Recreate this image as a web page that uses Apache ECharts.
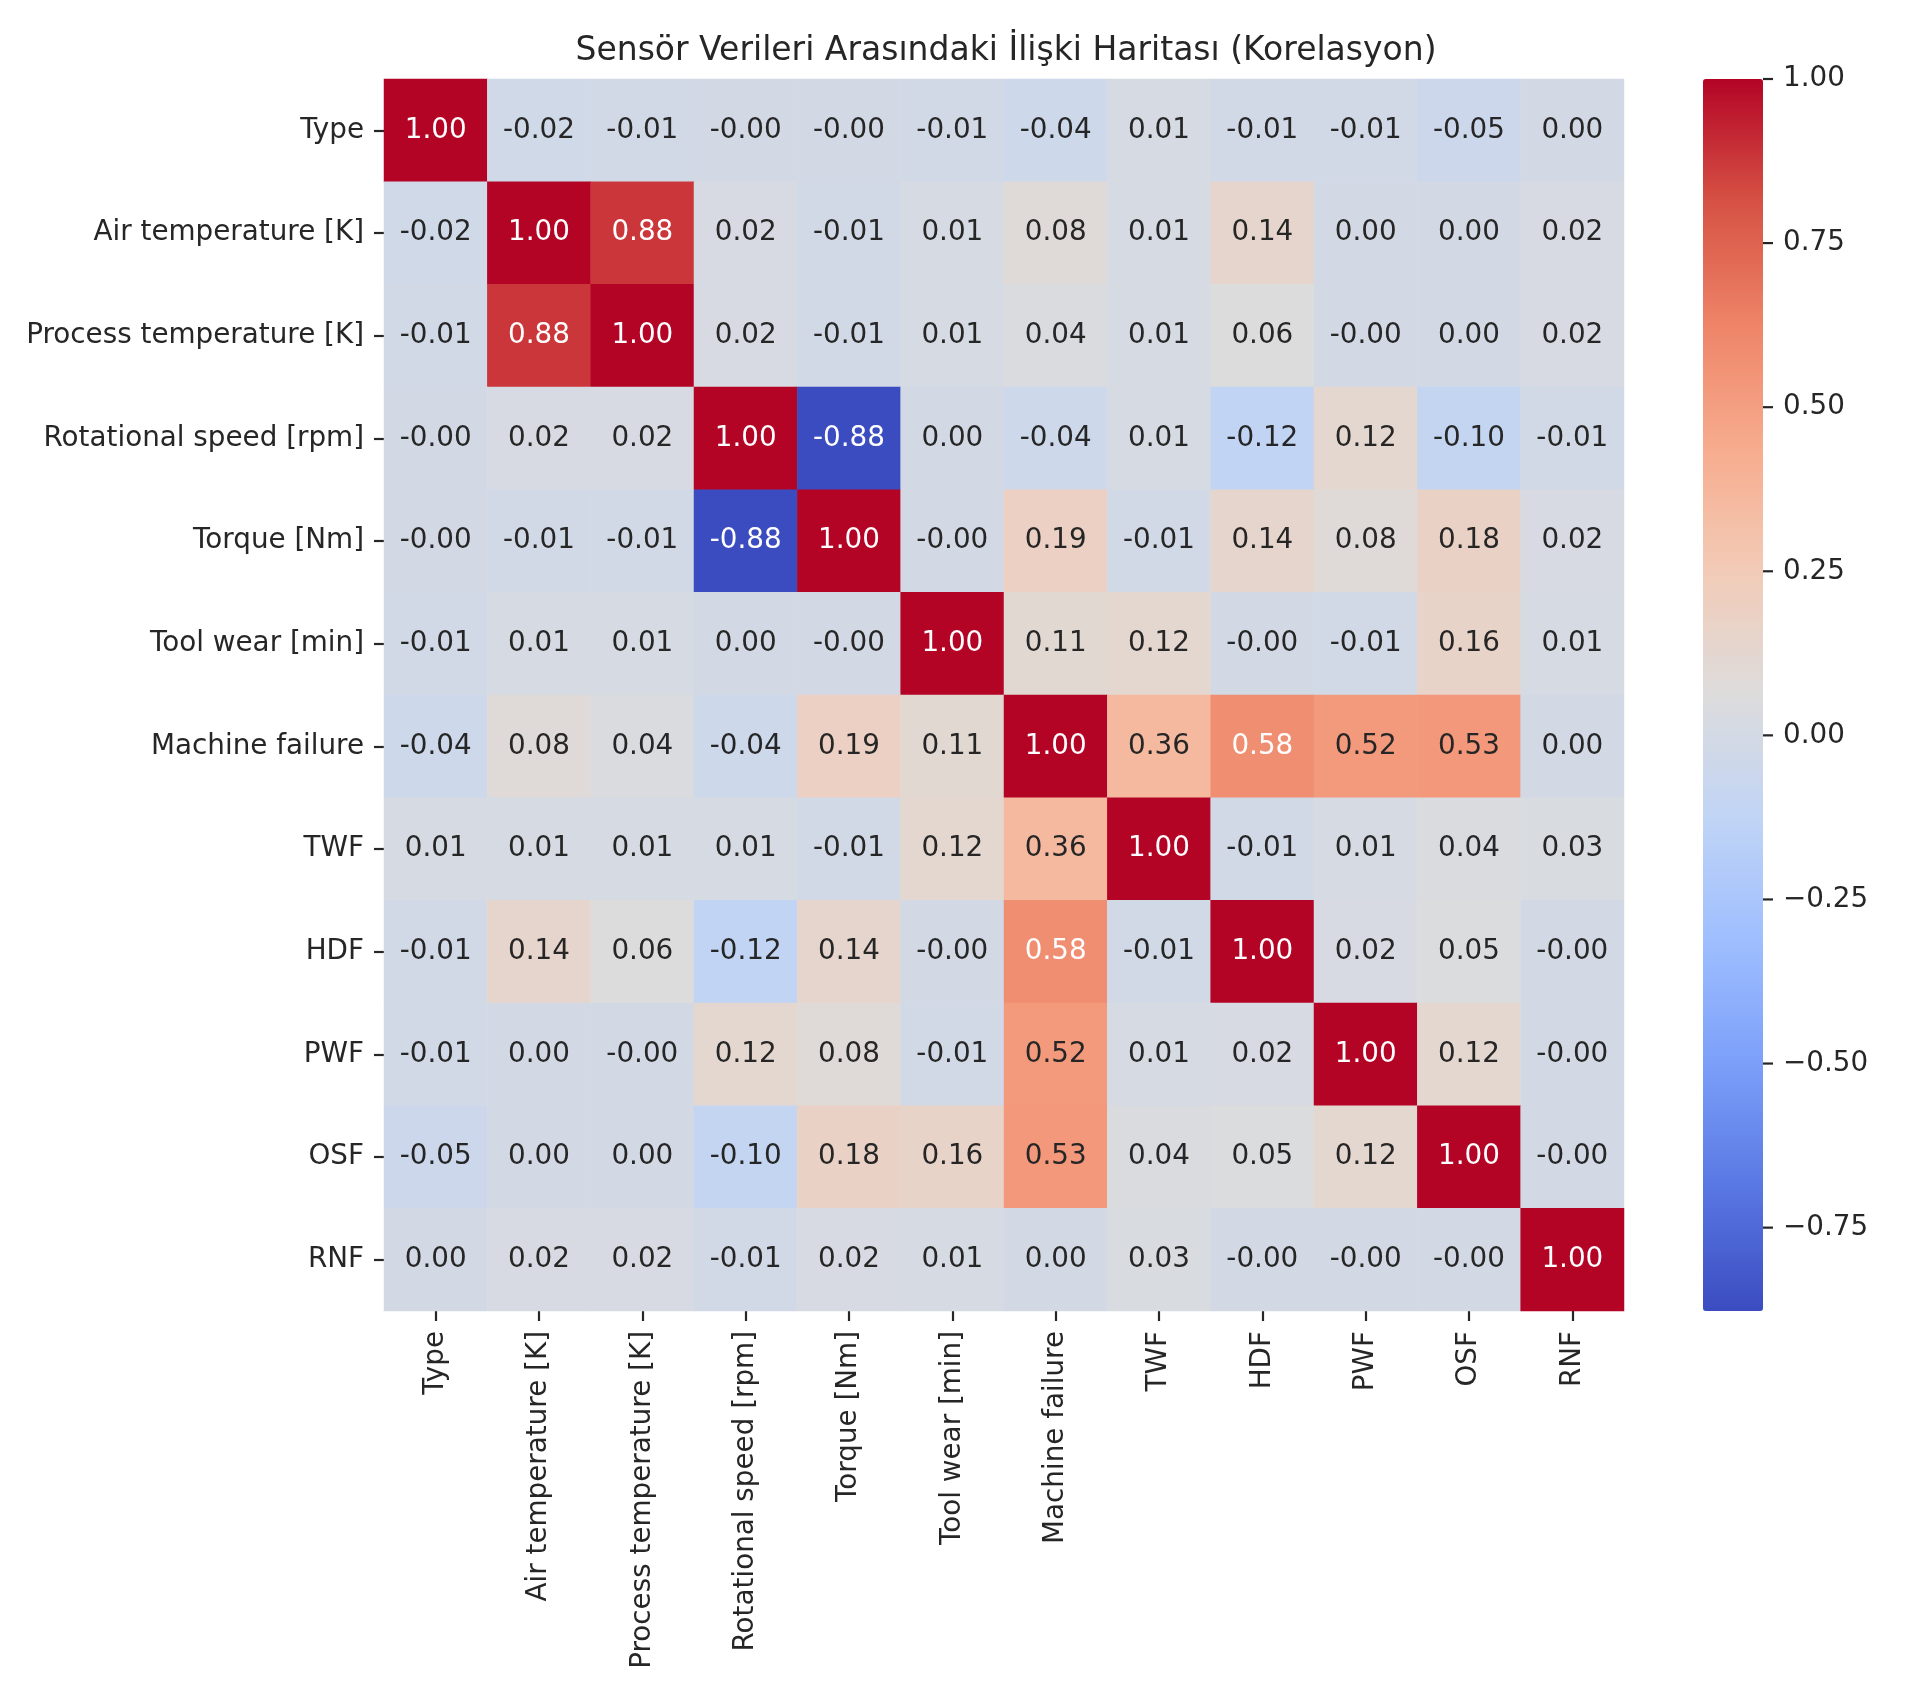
<!DOCTYPE html>
<html>
<head>
<meta charset="utf-8">
<script src="https://cdn.jsdelivr.net/npm/echarts@6/dist/echarts.min.js"></script>
<style>
  html, body { margin: 0; padding: 0; background: #fff; }
  #chart { width: 1912px; height: 1706px; }
</style>
</head>
<body>
<div id="chart"></div>
<script>
// labels of the correlation matrix (same order on both axes)
var labels = ['Type', 'Air temperature [K]', 'Process temperature [K]', 'Rotational speed [rpm]',
  'Torque [Nm]', 'Tool wear [min]', 'Machine failure', 'TWF', 'HDF', 'PWF', 'OSF', 'RNF'];

// rows (-0.001 stands for a printed "-0.00")
var rowType     = [1.00, -0.02, -0.01, -0.001, -0.001, -0.01, -0.04, 0.01, -0.01, -0.01, -0.05, 0.00];
var rowAir      = [-0.02, 1.00, 0.88, 0.02, -0.01, 0.01, 0.08, 0.01, 0.14, 0.00, 0.00, 0.02];
var rowProcess  = [-0.01, 0.88, 1.00, 0.02, -0.01, 0.01, 0.04, 0.01, 0.06, -0.001, 0.00, 0.02];
var rowSpeed    = [-0.001, 0.02, 0.02, 1.00, -0.877, 0.00, -0.04, 0.01, -0.12, 0.12, -0.10, -0.01];
var rowTorque   = [-0.001, -0.01, -0.01, -0.877, 1.00, -0.001, 0.19, -0.01, 0.14, 0.08, 0.18, 0.02];
var rowToolWear = [-0.01, 0.01, 0.01, 0.00, -0.001, 1.00, 0.11, 0.12, -0.001, -0.01, 0.16, 0.01];
var rowFailure  = [-0.04, 0.08, 0.04, -0.04, 0.19, 0.11, 1.00, 0.36, 0.58, 0.52, 0.53, 0.00];
var rowTWF      = [0.01, 0.01, 0.01, 0.01, -0.01, 0.12, 0.36, 1.00, -0.01, 0.01, 0.04, 0.03];
var rowHDF      = [-0.01, 0.14, 0.06, -0.12, 0.14, -0.001, 0.58, -0.01, 1.00, 0.02, 0.05, -0.001];
var rowPWF      = [-0.01, 0.00, -0.001, 0.12, 0.08, -0.01, 0.52, 0.01, 0.02, 1.00, 0.12, -0.001];
var rowOSF      = [-0.05, 0.00, 0.00, -0.10, 0.18, 0.16, 0.53, 0.04, 0.05, 0.12, 1.00, -0.001];
var rowRNF      = [0.00, 0.02, 0.02, -0.01, 0.02, 0.01, 0.00, 0.03, -0.001, -0.001, -0.001, 1.00];

var matrix = [rowType, rowAir, rowProcess, rowSpeed, rowTorque, rowToolWear,
  rowFailure, rowTWF, rowHDF, rowPWF, rowOSF, rowRNF];

var cbTicks = [-0.75, -0.5, -0.25, 0, 0.25, 0.5, 0.75, 1.0];

// coolwarm
var coolwarm = ['#3b4cc0', '#5977e3', '#7b9ff9', '#9ebeff', '#c0d4f5', '#dddcdc',
  '#f2cbb7', '#f7ac8e', '#ee8468', '#d65244', '#b40426'];

var vmin = Math.min.apply(null, matrix.map(function (r) { return Math.min.apply(null, r); }));
var vmax = Math.max.apply(null, matrix.map(function (r) { return Math.max.apply(null, r); }));

var font = 'DejaVu Sans';
var textColor = '#262626';
var data = [];
matrix.forEach(function (row, r) {
  row.forEach(function (v, c) {
    var dark = v > 0.55 || v < -0.5;
    data.push({ value: [c, r, v], label: { color: dark ? '#ffffff' : textColor } });
  });
});

var hiddenLine = { show: true, lineStyle: { color: 'rgba(0,0,0,0)' } };
var tickStyle = { color: textColor, width: 2.2 };

var myChart = echarts.init(document.getElementById('chart'));

option = {
  backgroundColor: '#ffffff',
  animation: false,
  graphic: [{
    type: 'text',
    x: 1006, y: 51,
    style: {
      text: 'Sensör Verileri Arasındaki İlişki Haritası (Korelasyon)',
      font: '33px "DejaVu Sans"',
      fill: textColor,
      textAlign: 'center',
      textVerticalAlign: 'middle'
    }
  }],
  grid: [
    { left: 384, top: 79, width: 1240, height: 1232 },
    { left: 1703, top: 79, width: 60, height: 1232 }
  ],
  xAxis: [
    {
      type: 'category', gridIndex: 0, data: labels,
      axisLine: hiddenLine,
      axisTick: { show: true, alignWithLabel: true, length: 10, lineStyle: tickStyle },
      axisLabel: { rotate: 90, fontSize: 27.8, fontFamily: font, color: textColor, margin: 20 },
      splitLine: { show: false }
    },
    { type: 'value', gridIndex: 1, show: false, min: 0, max: 1 }
  ],
  yAxis: [
    {
      type: 'category', gridIndex: 0, data: labels, inverse: true,
      axisLine: hiddenLine,
      axisTick: { show: true, alignWithLabel: true, length: 10, lineStyle: tickStyle },
      axisLabel: { fontSize: 27.8, fontFamily: font, color: textColor, margin: 20 },
      splitLine: { show: false }
    },
    {
      // colorbar scale; tick dash drawn as part of the label
      type: 'value', gridIndex: 1, position: 'right', min: vmin, max: vmax,
      axisLine: { show: false },
      splitLine: { show: false },
      axisTick: { show: false },
      axisLabel: {
        margin: 0,
        customValues: cbTicks,
        formatter: function (v) { return '{t|}{l|' + v.toFixed(2).replace('-', '\u2212') + '}'; },
        rich: {
          t: { width: 10, height: 2.2, backgroundColor: textColor },
          l: { fontSize: 27.8, fontFamily: font, color: textColor, padding: [0, 0, 0, 10] }
        }
      }
    }
  ],
  visualMap: {
    type: 'continuous',
    min: vmin, max: vmax,
    calculable: false,
    seriesIndex: 0,
    orient: 'vertical',
    left: 1703, top: 79,
    itemWidth: 60, itemHeight: 1232,
    padding: 0,
    text: null,
    showLabel: false,
    inRange: { color: coolwarm }
  },
  series: [{
    type: 'heatmap',
    xAxisIndex: 0, yAxisIndex: 0,
    data: data,
    label: {
      show: true,
      fontSize: 27.8,
      fontFamily: font,
      formatter: function (p) { return p.value[2].toFixed(2); }
    },
    itemStyle: { borderWidth: 0 },
    emphasis: { disabled: true }
  }]
};

myChart.setOption(option);
</script>
</body>
</html>
